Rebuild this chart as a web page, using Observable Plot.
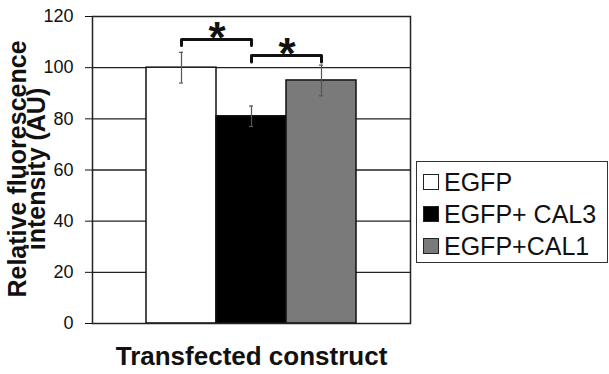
<!DOCTYPE html>
<html>
<head>
<meta charset="utf-8">
<script src="https://cdn.jsdelivr.net/npm/d3@7"></script>
<script src="https://cdn.jsdelivr.net/npm/@observablehq/plot@0.6"></script>
<style>
  html, body { margin: 0; padding: 0; background: #fff; }
  #wrap { position: relative; width: 609px; height: 374px; overflow: hidden; font-family: "Liberation Sans", Arial, sans-serif; }
  #legend { position: absolute; left: 416px; top: 161px; width: 190px; height: 100px; border: 1.5px solid #333; background: #fff; }
  .item { position: absolute; left: 6px; height: 26px; display: flex; align-items: center; font-size: 25px; color: #111; white-space: nowrap; }
  .sw { width: 16px; height: 16px; border: 1.3px solid #222; box-sizing: border-box; margin-right: 5px; }
</style>
</head>
<body>
<div id="wrap"></div>
<script>
const categories = ["EGFP", "EGFP+ CAL3", "EGFP+CAL1"];
const means = [100, 81, 95];
const errors = [6, 4, 6];
const barColors = ["#ffffff", "#000000", "#7a7a7a"];
const yTicks = [0, 20, 40, 60, 80, 100, 120];
const gridValues = [20, 40, 60, 80, 100];
const bracketFrom = ["EGFP", "EGFP+ CAL3"];
const bracketTo = ["EGFP+ CAL3", "EGFP+CAL1"];
const bracketLevel = [111, 104.8];
const bracketFoot = [108.7, 102.2];
const bracketLabel = ["*", "*"];
const yLabel = "Relative fluorescence\nintensity (AU)";
const xLabel = "Transfected construct";

const W = 609, H = 374;
const mL = 92, mR = 199, mT = 16, mB = 51;
const padOuter = 0.74;
const bw = (W - mL - mR) / (categories.length + 2 * padOuter);

const bars = categories.map((c, i) => ({cat: c, v: means[i], lo: means[i] - errors[i], hi: means[i] + errors[i]}));
const bracketPts = [];
bracketFrom.forEach((f, i) => {
  bracketPts.push({b: i, cat: f, y: bracketFoot[i]});
  bracketPts.push({b: i, cat: f, y: bracketLevel[i]});
  bracketPts.push({b: i, cat: bracketTo[i], y: bracketLevel[i]});
  bracketPts.push({b: i, cat: bracketTo[i], y: bracketFoot[i]});
});
const stars = bracketFrom.map((f, i) => ({cat: f, y: bracketLevel[i], t: bracketLabel[i]}));

const font = "Liberation Sans, Arial, sans-serif";
const chart = Plot.plot({
  width: W, height: H,
  marginLeft: mL, marginRight: mR, marginTop: mT, marginBottom: mB,
  style: {fontFamily: font, fontSize: "18px", color: "#111", background: "#fff"},
  x: {domain: categories, type: "band", paddingInner: 0, paddingOuter: padOuter, axis: null},
  y: {domain: [0, 120], ticks: yTicks, tickSize: 7, tickPadding: 12, label: null},
  color: {domain: categories, range: barColors},
  marks: [
    Plot.ruleY(gridValues, {stroke: "#222", strokeWidth: 1.4}),
    Plot.barY(bars, {x: "cat", y: "v", fill: "cat", stroke: "#111", strokeWidth: 1.5}),
    Plot.frame({stroke: "#222", strokeWidth: 1.5}),
    Plot.ruleX(bars, {x: "cat", y1: "lo", y2: "hi", stroke: "#555", strokeWidth: 1.2}),
    Plot.tickY(bars, {x: "cat", y: "hi", stroke: "#555", strokeWidth: 1.2, insetLeft: bw / 2 - 2.5, insetRight: bw / 2 - 2.5}),
    Plot.tickY(bars, {x: "cat", y: "lo", stroke: "#555", strokeWidth: 1.2, insetLeft: bw / 2 - 2.5, insetRight: bw / 2 - 2.5}),
    Plot.line(bracketPts, {x: "cat", y: "y", z: "b", stroke: "#111", strokeWidth: 3, curve: "linear"}),
    Plot.text(stars, {x: "cat", y: "y", text: "t", dx: bw / 2, dy: -18, lineAnchor: "top", fontSize: 44, fontWeight: "bold", fill: "#111"}),
    Plot.text([yLabel], {text: d => d, frameAnchor: "left", textAnchor: "middle", rotate: -90, dx: -63, dy: -1, lineAnchor: "middle", lineHeight: 0.76, fontSize: 25, fontWeight: "bold", fill: "#111"}),
    Plot.text([xLabel], {text: d => d, frameAnchor: "bottom", dy: 33, lineAnchor: "middle", fontSize: 26, fontWeight: "bold", fill: "#111"})
  ]
});
const wrap = document.getElementById("wrap");
wrap.appendChild(chart);

const legend = document.createElement("div");
legend.id = "legend";
categories.forEach((c, i) => {
  const it = document.createElement("div");
  it.className = "item";
  it.style.top = (7 + i * 32) + "px";
  const sw = document.createElement("span");
  sw.className = "sw";
  sw.style.background = barColors[i];
  const tx = document.createElement("span");
  tx.textContent = c;
  it.appendChild(sw);
  it.appendChild(tx);
  legend.appendChild(it);
});
wrap.appendChild(legend);
</script>
</body>
</html>
